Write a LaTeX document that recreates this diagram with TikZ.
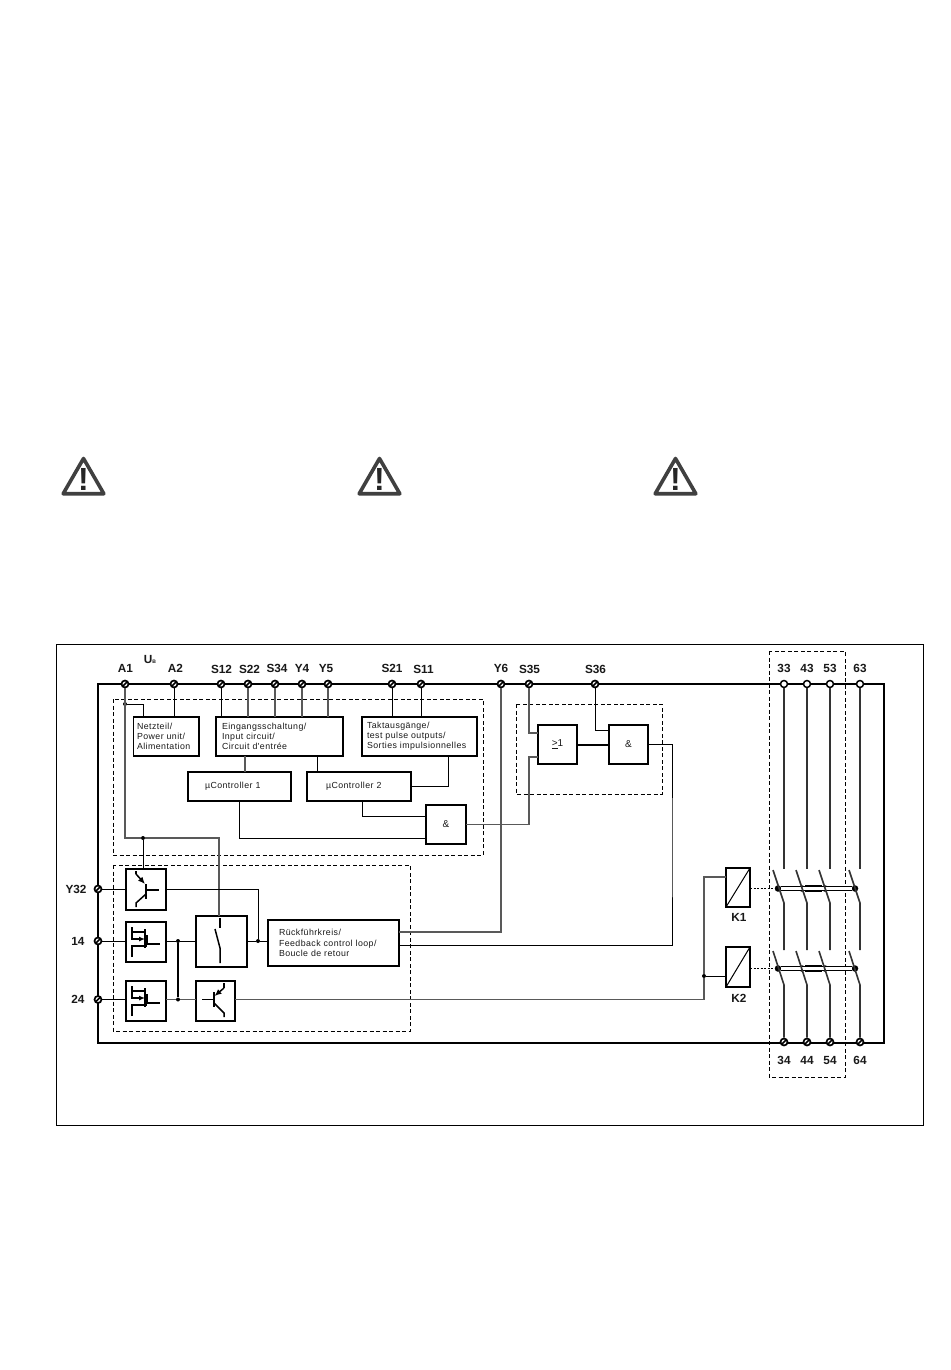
\documentclass[tikz,border=0pt]{standalone}
\usepackage{fontspec}
\setmainfont{Liberation Sans}
\newfontfamily\blockfont[LetterSpace=5]{Liberation Sans}
\usepackage{tikz}
\usetikzlibrary{arrows,arrows.meta,shapes.geometric}
\usepackage{xcolor}

% mosfet drawn from the corner of its box
\newcommand{\fetsym}[1]{
\begin{scope}[shift={(#1.north west)}]
\path [sym] (6,5) -- (6,10) -- (19,10);
\path [sym,-{Latex[length=6pt,width=5pt]}] (6,10) -- (6,17) -- (19,17);
\path [sym] (19,7) -- (19,26);
\path [sym] (6,35) -- (6,24) -- (21,24);
\path [sym] (21,13) -- (21,22) -- (34,22);
\end{scope}
}
% one pole of K1 and K2, from its top terminal to its bottom one
\newcommand{\polesym}[2]{
\path [pole] (#1) -- (#1 |- 0,869);
\path [pole] (#1 |- 0,903) ++(-11,-33) -- ++(11,33) -- ++(0,47);
\path [pole] (#1 |- 0,985) ++(-11,-34) -- ++(11,34) -- (#2);
}

\begin{document}
\begin{tikzpicture}[x=1pt,y=-1pt]
\tikzstyle{block} = [rectangle, draw, line width=1.9pt, outer sep=0pt, inner ysep=0pt,
font=\blockfont\fontsize{8.8}{10.2}\selectfont, align=left, text=black!90];
\tikzstyle{gate} = [block, minimum width=39pt, minimum height=39pt, align=center,
font=\blockfont\fontsize{10}{10}\selectfont];
\tikzstyle{tag} = [font=\bfseries\fontsize{11.8}{12}\selectfont, inner sep=0pt, text=black!90];
\tikzstyle{term} = [circle, draw, fill=white, line width=1.7pt, minimum size=7pt, inner sep=0pt,
path picture={\draw[line width=1.7pt] (path picture bounding box.south west) -- (path picture bounding box.north east);}];
\tikzstyle{termo} = [circle, draw, fill=white, line width=1.5pt, minimum size=7pt, inner sep=0pt];
\tikzstyle{dot} = [circle, fill, minimum size=4pt, inner sep=0pt];
\tikzstyle{linkdot} = [circle, fill, minimum size=6.5pt, inner sep=0pt];
\tikzstyle{group} = [draw, line width=0.8pt, dash pattern=on 4pt off 2.5pt];
\tikzstyle{warning} = [regular polygon, regular polygon sides=3, draw=black!75, line width=3.6pt,
line join=round, minimum size=47pt, inner sep=0pt, text=black!85,
font=\bfseries\fontsize{32}{32}\selectfont];
\tikzstyle{wire} = [draw, line width=1pt, black];
\tikzstyle{wireg} = [draw, line width=1.5pt, black!65];
\tikzstyle{pole} = [draw, line width=1.6pt, black!80];
\tikzstyle{sym} = [draw, line width=1.5pt, black];
\tikzstyle{link} = [draw, double, line width=1.4pt, double distance=3pt];
\tikzstyle{coilgap} = [draw, line width=0.9pt, dash pattern=on 2pt off 1.5pt];

\useasboundingbox (0,0) rectangle (950,1370);
\fill[white] (0,0) rectangle (950,1370);

% warning signs
\node [warning] (warnA) at (83.5,482) {\raisebox{-8.5pt}[0pt][0pt]{!}};
\node [warning] (warnB) at (379.5,482) {\raisebox{-8.5pt}[0pt][0pt]{!}};
\node [warning] (warnC) at (675.5,482) {\raisebox{-8.5pt}[0pt][0pt]{!}};

% frames
\draw [line width=0.9pt] (56.5,644.5) rectangle (923.5,1125.5);
\draw [line width=1.9pt] (98,684) rectangle (884,1043);
\path [group] (113,699) rectangle (483,855);
\path [group] (113,865) rectangle (410,1031);
\path [group] (516,704) rectangle (662,794);
\path [group] (769,651) rectangle (845,1077);

% terminals, top row
\node [term] (tA1) at (125,684) {};
\node [term] (tA2) at (174,684) {};
\node [term] (tS12) at (221,684) {};
\node [term] (tS22) at (248,684) {};
\node [term] (tS34) at (275,684) {};
\node [term] (tY4) at (302,684) {};
\node [term] (tY5) at (328,684) {};
\node [term] (tS21) at (392,684) {};
\node [term] (tS11) at (421,684) {};
\node [term] (tY6) at (501,684) {};
\node [term] (tS35) at (529,684) {};
\node [term] (tS36) at (595,684) {};
\node [termo] (t33) at (784,684) {};
\node [termo] (t43) at (807,684) {};
\node [termo] (t53) at (830,684) {};
\node [termo] (t63) at (860,684) {};
% terminals, left and bottom
\node [term] (tY32) at (98,889) {};
\node [term] (t14) at (98,941) {};
\node [term] (t24) at (98,999.5) {};
\node [term] (t34) at (784,1042) {};
\node [term] (t44) at (807,1042) {};
\node [term] (t54) at (830,1042) {};
\node [term] (t64) at (860,1042) {};

% labels
\node [tag] (lA1) at (125.5,668) {A1};
\node [tag] (lUB) at (150,659) {U{\fontsize{5}{5}\selectfont B}};
\node [tag] (lA2) at (175.5,668) {A2};
\node [tag] (lS12) at (221.5,669) {S12};
\node [tag] (lS22) at (249.5,669) {S22};
\node [tag] (lS34) at (277,668) {S34};
\node [tag] (lY4) at (302,668) {Y4};
\node [tag] (lY5) at (326,668) {Y5};
\node [tag] (lS21) at (392,668) {S21};
\node [tag] (lS11) at (423.5,669) {S11};
\node [tag] (lY6) at (501,668) {Y6};
\node [tag] (lS35) at (529.5,669) {S35};
\node [tag] (lS36) at (595.5,669) {S36};
\node [tag] (l33) at (784,668) {33};
\node [tag] (l43) at (807,668) {43};
\node [tag] (l53) at (830,668) {53};
\node [tag] (l63) at (860,668) {63};
\node [tag] (lY32) at (76,889.5) {Y32};
\node [tag] (l14) at (78,941.5) {14};
\node [tag] (l24) at (78,999) {24};
\node [tag] (lK1) at (739,917.5) {K1};
\node [tag] (lK2) at (739,998.5) {K2};
\node [tag] (l34) at (784,1060) {34};
\node [tag] (l44) at (807,1060) {44};
\node [tag] (l54) at (830,1060) {54};
\node [tag] (l64) at (860,1060) {64};

% blocks
\node [block, minimum width=65.5pt, minimum height=39pt, text width=58.5pt, inner xsep=3.5pt] (power) at (166.25,736.5) {Netzteil/\\Power unit/\\Alimentation};
\node [block, minimum width=127pt, minimum height=39pt, text width=115pt, inner xsep=6pt] (input) at (279.5,736.5) {Eingangsschaltung/\\Input circuit/\\Circuit d'entrée};
\node [block, minimum width=115pt, minimum height=39pt, text width=105pt, inner xsep=5pt] (pulse) at (419.5,736.5) {Taktausgänge/\\test pulse outputs/\\Sorties impulsionnelles};
\node [block, minimum width=103pt, minimum height=29pt, text width=69pt, inner xsep=17pt] (uCa) at (239.5,786.5) {µController 1};
\node [block, minimum width=104pt, minimum height=29pt, text width=66pt, inner xsep=19pt] (uCb) at (359,786.5) {µController 2};
\node [gate, minimum width=40pt] (andA) at (446,824.5) {\&};
\node [gate] (orgate) at (557.5,744.5) {\underline{>}1};
\node [gate] (andB) at (628.5,744.5) {\&};
\node [gate, minimum width=40pt, minimum height=41pt] (transA) at (146,889.5) {};
\node [gate, minimum width=40pt, minimum height=40pt] (fetA) at (146,942) {};
\node [gate, minimum width=40pt, minimum height=40pt] (fetB) at (146,1001) {};
\node [gate, minimum width=51pt, minimum height=51pt] (switch) at (221.5,941.5) {};
\node [gate, minimum height=40pt] (transB) at (215.5,1001) {};
\node [block, minimum width=131pt, minimum height=46pt, text width=109pt, inner xsep=11pt] (loop) at (333.5,943) {Rückführkreis/\\Feedback control loop/\\Boucle de retour};
\node [block, line width=1.5pt, minimum width=24pt, minimum height=39pt] (coilA) at (738,887.5) {};
\node [block, line width=1.5pt, minimum width=24pt, minimum height=40pt] (coilB) at (738,967) {};

% junctions
\node [dot] (dotP) at (125,704) {};
\node [dot] (dotB) at (143,838) {};
\node [dot] (dotF) at (258,941) {};
\node [dot] (dotC) at (178,941) {};
\node [dot] (dotD) at (178,999.5) {};
\node [dot] (dotK) at (704,976) {};
\node [linkdot] (linkAa) at (778,888.5) {};
\node [linkdot] (linkAb) at (802,888.5) {};
\node [linkdot] (linkAc) at (825,888.5) {};
\node [linkdot] (linkAd) at (855,888.5) {};
\node [linkdot] (linkBa) at (778,968.5) {};
\node [linkdot] (linkBb) at (802,968.5) {};
\node [linkdot] (linkBc) at (825,968.5) {};
\node [linkdot] (linkBd) at (855,968.5) {};
\coordinate (busO) at (529,790);
\coordinate (busR) at (672,850);

\tikzstyle{every path}=[wire]
% top row to the blocks
\path [wireg] (tA1) |- (dotB) -| ([xshift=-2.5pt]switch.north);
\path (dotP) -| ([xshift=-22.5pt]power.north);
\path (tA2) -- (tA2 |- power.north);
\path (tS12) -- (tS12 |- input.north);
\path [wireg] (tS22) -- (tS22 |- input.north);
\path [wireg] (tS34) -- (tS34 |- input.north);
\path [wireg] (tY4) -- (tY4 |- input.north);
\path [wireg] (tY5) -- (tY5 |- input.north);
\path (tS21) -- (tS21 |- pulse.north);
\path (tS11) -- (tS11 |- pulse.north);
\path [wireg] ([xshift=-34.5pt]input.south) -- ([xshift=-34.5pt]input.south |- uCa.north);
\path ([xshift=37.5pt]input.south) -- ([xshift=37.5pt]input.south |- uCb.north);
\path ([xshift=28.5pt]pulse.south) |- (uCb.east);
\path (uCa.south) |- ([yshift=-13.5pt]andA.west);
\path ([xshift=3pt]uCb.south) |- ([yshift=8.5pt]andA.west);
% logic on the right
\path [wireg] (andA.east) -| (busO) |- ([yshift=-12.5pt]orgate.west);
\path [wireg] (tS35) |- ([yshift=11.5pt]orgate.west);
\path (tS36) |- ([yshift=14.5pt]andB.west);
\path [line width=2pt] (orgate.east) -- (andB.west);
\path (andB.east) -| (busR) |- ([yshift=-2pt]loop.east);
\path [wireg] ([yshift=11pt]loop.east) -| (tY6);
% left column
\path (dotB) -- (dotB |- transA.north);
\path (tY32) -- (tY32 -| transA.west);
\path (t14) -- (t14 -| fetA.west);
\path (t24) -- (t24 -| fetB.west);
\path (transA.east) -| (dotF);
\path (switch.east |- dotF) -- (dotF) -- (dotF -| loop.west);
\path (fetA.east |- dotC) -- (dotC) -- (dotC -| switch.west);
\path [line width=1.4pt] (dotC) -- (dotD);
\path [wireg] (fetB.east |- dotD) -- (dotD) -- (dotD -| transB.west);
% coils
\path [wireg] (transB.east |- dotD) -| (dotK);
\path [wireg] (dotK) |- ([yshift=10.5pt]coilA.west);
\path (dotK) -- (dotK -| coilB.west);
\path (coilA.south west) -- (coilA.north east);
\path (coilB.south west) -- (coilB.north east);
\path [coilgap] (coilA.east |- linkAa) -- (linkAa);
\path [coilgap] (coilB.east |- linkBa) -- (linkBa);
% links between the poles
\path [link] (linkAa) -- (linkAd);
\path [link] (linkBa) -- (linkBd);
\path [link, line width=2.2pt] (linkAb) -- (linkAc);
\path [link, line width=2.2pt] (linkBb) -- (linkBc);
\polesym{t33}{t34}
\polesym{t43}{t44}
\polesym{t53}{t54}
\polesym{t63}{t64}

% symbols in the boxes
\path [sym] (136,871) -- (136,874);
\path [sym,-{Latex[length=7pt,width=6pt]}] (136,874) -- (145,884);
\path [line width=2.4pt] (146,884) -- (146,899);
\path [sym] (146,890) -- (159,890);
\path [sym] (146,894) -- (136,903) -- (136,907);
\fetsym{fetA}
\fetsym{fetB}
\path [sym] (220,918) -- (220,928);
\path [sym] (215,929) -- (220,948) -- (220,963);
\path [sym] (202,999.5) -- (214,999.5);
\path [line width=2.4pt] (214,992) -- (214,1007);
\path [sym] (224,983) -- (224,988);
\path [sym,-{Latex[length=7pt,width=6pt]}] (224,988) -- (214.5,996);
\path [sym] (214,1003) -- (224,1013) -- (224,1017);
\end{tikzpicture}
\end{document}
